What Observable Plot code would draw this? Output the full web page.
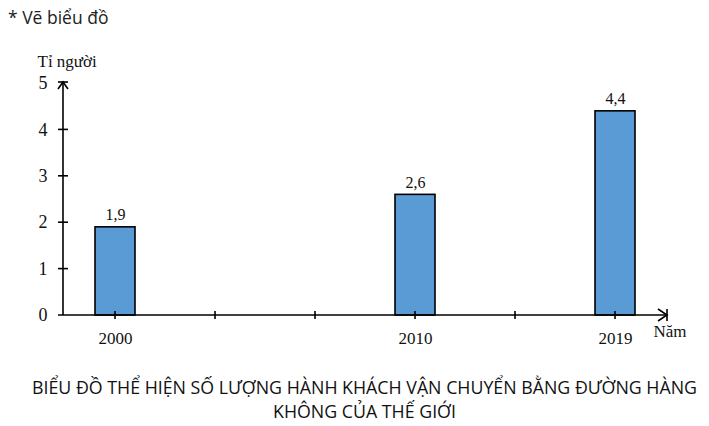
<!DOCTYPE html>
<html>
<head>
<meta charset="utf-8">
<script src="https://cdn.jsdelivr.net/npm/d3@7"></script>
<script src="https://cdn.jsdelivr.net/npm/@observablehq/plot@0.6"></script>
<style>
  body { margin: 0; background: #fff; width: 709px; height: 426px; overflow: hidden; }
  #head { height: 34px; font: 17.5px "Open Sans", sans-serif; color: #222; padding-left: 8px; line-height: 34px; box-sizing: border-box; }
  #chart svg { display: block; }
  #chart svg text { font-family: "Liberation Serif", "Times New Roman", serif; }
  #cap { font: 17.8px "Open Sans", sans-serif; color: #111; text-align: center; line-height: 24px; margin-top: 5px; padding-left: 20px; white-space: nowrap; }
</style>
</head>
<body>
<div id="head">* Vẽ biểu đồ</div>
<div id="chart"></div>
<div id="cap">BIỂU ĐỒ THỂ HIỆN SỐ LƯỢNG HÀNH KHÁCH VẬN CHUYỂN BẰNG ĐƯỜNG HÀNG<br>KHÔNG CỦA THẾ GIỚI</div>
<script>
// Data
const years = ["2000", "2010", "2019"];
const passengers = [1.9, 2.6, 4.4]; // tỉ người
// Slots along the horizontal axis (tick positions); only the years are labelled
const slots = ["2000", "s1", "s2", "2010", "s3", "2019"];
const yTicks = [0, 1, 2, 3, 4, 5];
const yLabel = "Tỉ người";
const xLabel = "Năm";

const data = years.map((y, i) => ({year: y, value: passengers[i]}));
const fmt = v => String(v).replace(".", ",");
const serif = "Liberation Serif";

const axes = (index, scales, values, dims) => {
  const g = d3.create("svg:g")
    .attr("fill", "none").attr("stroke", "black").attr("stroke-width", 1.6);
  const x0 = dims.marginLeft;
  const x1 = dims.width - dims.marginRight;
  const y0 = scales.y(0);
  const yTop = scales.y(5) - 1;
  // y axis line + arrow
  g.append("line").attr("x1", x0).attr("x2", x0).attr("y1", y0).attr("y2", yTop);
  g.append("path").attr("d", `M${x0 - 5},${yTop + 7}L${x0},${yTop}L${x0 + 5},${yTop + 7}`);
  g.append("line").attr("x1", x0 - 5).attr("x2", x0 + 5).attr("y1", yTop).attr("y2", yTop);
  // x axis line + arrow
  g.append("line").attr("x1", x0 - 5).attr("x2", x1).attr("y1", y0).attr("y2", y0);
  g.append("path").attr("d", `M${x1 - 9},${y0 - 6}L${x1},${y0}L${x1 - 9},${y0 + 6}`);
  g.append("line").attr("x1", x1).attr("x2", x1).attr("y1", y0 - 6).attr("y2", y0 + 6);
  // y ticks (crossing)
  for (const t of yTicks.slice(1, -1)) {
    const yy = scales.y(t);
    g.append("line").attr("x1", x0 - 5).attr("x2", x0 + 5).attr("y1", yy).attr("y2", yy);
  }
  // x ticks (crossing) at slot centres
  const bw = scales.x.bandwidth ? scales.x.bandwidth() : 0;
  for (const s of slots) {
    const xx = scales.x(s) + bw / 2;
    g.append("line").attr("x1", xx).attr("x2", xx).attr("y1", y0 - 4).attr("y2", y0 + 4);
  }
  return g.node();
};

const plot = Plot.plot({
  width: 709,
  height: 336,
  marginTop: 49,
  marginBottom: 55,
  marginLeft: 63,
  marginRight: 42,
  style: {fontFamily: serif, fontSize: "17px", color: "#111", background: "white"},
  x: {type: "band", domain: slots, padding: 0, label: null},
  y: {domain: [0, 5], label: null},
  marks: [
    Plot.barY(data, {x: "year", y: "value", fill: "#5B9BD5", stroke: "black", strokeWidth: 1.6, insetLeft: 30, insetRight: 30}),
    Plot.text(data, {x: "year", y: "value", text: d => fmt(d.value), dy: -12, fontSize: 16, fontFamily: serif, fill: "#111"}),
    Plot.axisY(yTicks, {tickSize: 0, tickPadding: 16, label: null, fontSize: 18, fontFamily: serif, tickFormat: d => String(d)}),
    Plot.axisX(years, {tickSize: 0, tickPadding: 16, label: null, fontSize: 17, fontFamily: serif}),
    axes,
    Plot.text([yLabel], {frameAnchor: "top-left", text: d => d, dx: -26, dy: -29, fontSize: 17, fontFamily: serif, textAnchor: "start", fill: "#111"}),
    Plot.text([xLabel], {frameAnchor: "bottom-right", text: d => d, dx: 19, dy: 21, fontSize: 17, fontFamily: serif, textAnchor: "end", fill: "#111"})
  ]
});
document.getElementById("chart").append(plot);
</script>
</body>
</html>
